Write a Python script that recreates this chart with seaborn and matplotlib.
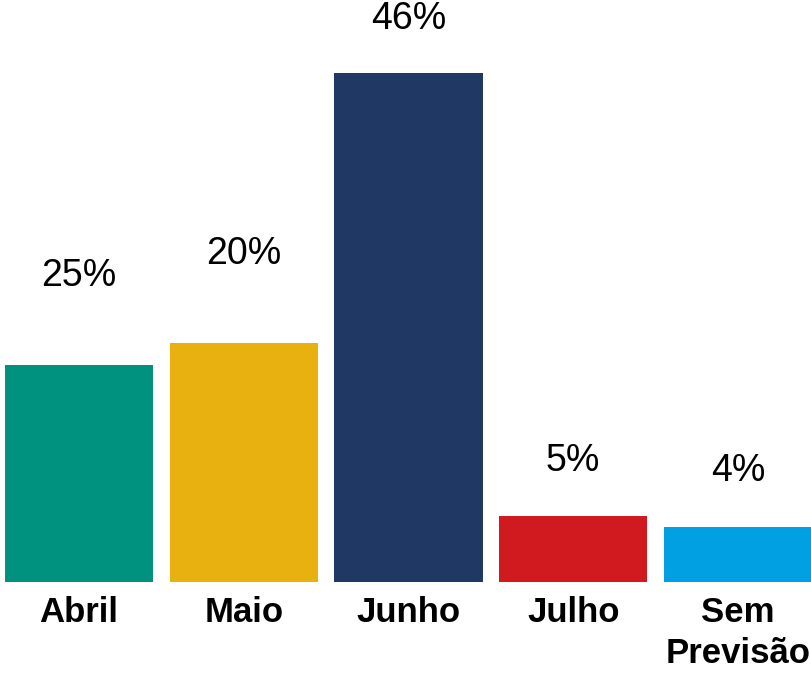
import matplotlib
matplotlib.use("Agg")
import matplotlib.pyplot as plt
import seaborn as sns
import pandas as pd

# data
categories = ["Abril", "Maio", "Junho", "Julho", "Sem\nPrevisão"]
bar_heights = [19.6, 21.6, 46.0, 6.0, 5.0]
value_labels = ["25%", "20%", "46%", "5%", "4%"]
colors = ["#00917F", "#E9B110", "#1F3864", "#D11A20", "#00A0E3"]

# label gap above each bar (points), as in the original layout
label_pad = [51, 51, 26, 26, 27]

df = pd.DataFrame({"mes": categories, "valor": bar_heights})

sns.set_theme(style="white")
plt.rcParams["font.family"] = ["Liberation Sans", "DejaVu Sans"]

fig = plt.figure(figsize=(8.12, 6.74), dpi=100)
ax = fig.add_axes([5 / 812, 92 / 674, 807 / 812, 582 / 674])

sns.barplot(data=df, x="mes", y="valor", hue="mes", palette=colors,
            width=0.9, legend=False, saturation=1, linewidth=0, ax=ax)

for i, (h, lab) in enumerate(zip(bar_heights, value_labels)):
    ax.annotate(lab, (i, h), xytext=(0, label_pad[i]), textcoords="offset points",
                ha="center", va="bottom", fontsize=27, color="#000000")

ax.set_xlim(-0.45, 4.45)
ax.set_ylim(0, 582 / 11.065)
ax.set_xlabel("")
ax.set_ylabel("")
ax.set_yticks([])
ax.tick_params(axis="x", length=0, pad=10)
for t in ax.get_xticklabels():
    t.set_fontsize(25)
    t.set_fontweight("bold")
    t.set_color("#000000")
    t.set_linespacing(1.3)
for s in ax.spines.values():
    s.set_visible(False)

fig.savefig("out.png", dpi=100)
